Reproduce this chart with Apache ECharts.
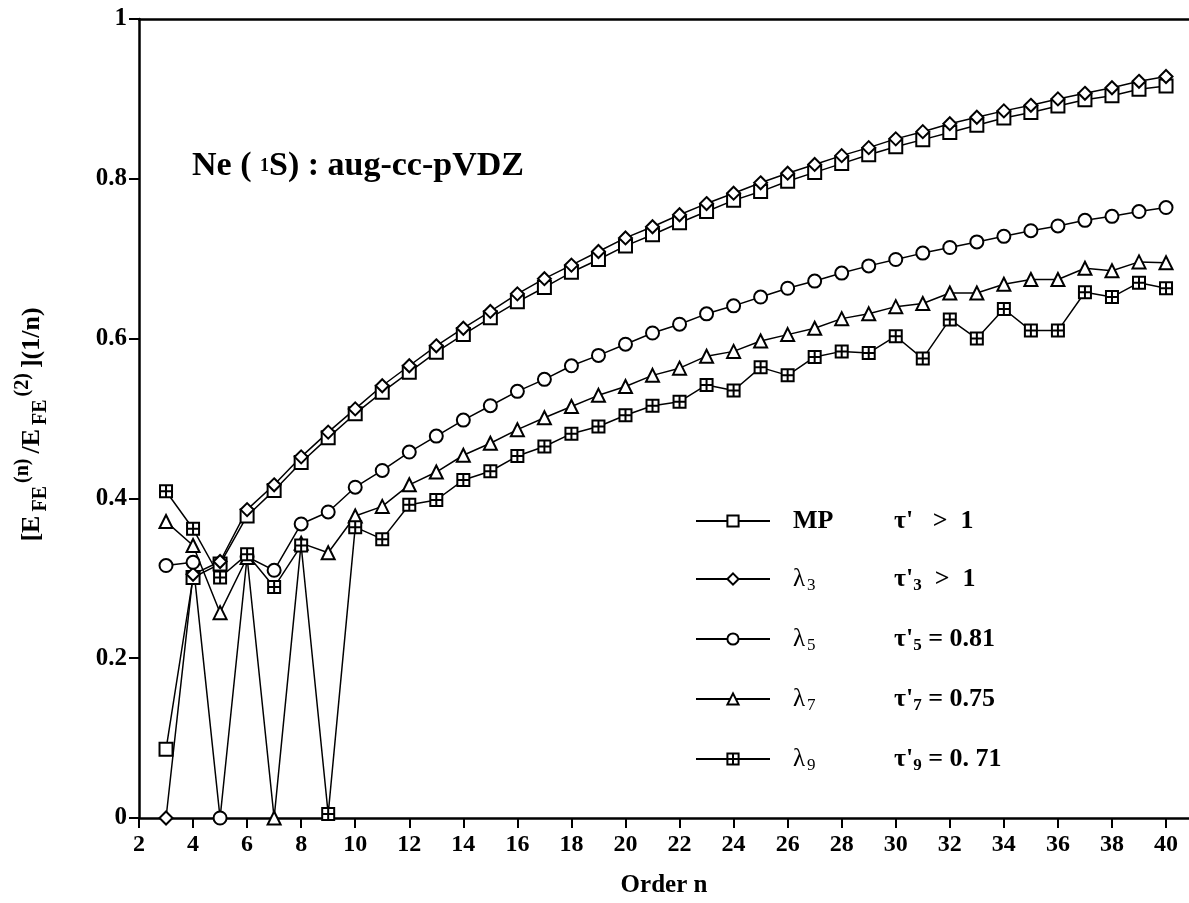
<!DOCTYPE html>
<html>
<head>
<meta charset="utf-8">
<script src="https://cdn.jsdelivr.net/npm/echarts@6/dist/echarts.min.js"></script>
<style>
  html, body { margin: 0; padding: 0; background: #fff; }
  #chartmain { width: 1189px; height: 903px; }
</style>
</head>
<body>
<div id="chartmain"></div>
<script>
var orders = [3, 4, 5, 6, 7, 8, 9, 10, 11, 12, 13, 14, 15, 16, 17, 18, 19, 20, 21,
  22, 23, 24, 25, 26, 27, 28, 29, 30, 31, 32, 33, 34, 35, 36, 37, 38, 39, 40];

// MP
var mp = [0.086, 0.301, 0.318, 0.378, 0.410, 0.445, 0.476, 0.506, 0.533, 0.558,
  0.583, 0.605, 0.626, 0.646, 0.664, 0.683, 0.699, 0.716, 0.730, 0.745,
  0.759, 0.773, 0.784, 0.797, 0.808, 0.819, 0.830, 0.840, 0.849, 0.858,
  0.867, 0.876, 0.883, 0.891, 0.899, 0.904, 0.912, 0.916];
// lambda 3
var lam3 = [0, 0.305, 0.321, 0.386, 0.417, 0.452, 0.483, 0.512, 0.541, 0.566,
  0.591, 0.613, 0.634, 0.656, 0.675, 0.692, 0.709, 0.726, 0.740, 0.755,
  0.769, 0.782, 0.795, 0.807, 0.818, 0.829, 0.839, 0.850, 0.859, 0.869,
  0.877, 0.885, 0.892, 0.900, 0.907, 0.914, 0.922, 0.928];
// lambda 5
var lam5 = [0.316, 0.320, 0, 0.327, 0.310, 0.368, 0.383, 0.414, 0.435, 0.458,
  0.478, 0.498, 0.516, 0.534, 0.549, 0.566, 0.579, 0.593, 0.607, 0.618,
  0.631, 0.641, 0.652, 0.663, 0.672, 0.682, 0.691, 0.699, 0.707, 0.714,
  0.721, 0.728, 0.735, 0.741, 0.748, 0.753, 0.759, 0.764];
// lambda 7
var lam7 = [0.371, 0.341, 0.257, 0.326, 0, 0.344, 0.332, 0.378, 0.390, 0.417,
  0.433, 0.454, 0.469, 0.486, 0.501, 0.515, 0.529, 0.540, 0.554, 0.563,
  0.578, 0.584, 0.597, 0.605, 0.613, 0.625, 0.631, 0.640, 0.644, 0.657,
  0.657, 0.668, 0.674, 0.674, 0.688, 0.685, 0.696, 0.695];
// lambda 9
var lam9 = [0.409, 0.362, 0.301, 0.330, 0.289, 0.341, 0.005, 0.364, 0.349, 0.392,
  0.398, 0.423, 0.434, 0.453, 0.465, 0.481, 0.490, 0.504, 0.516, 0.521,
  0.542, 0.535, 0.564, 0.554, 0.577, 0.584, 0.582, 0.603, 0.575, 0.624,
  0.600, 0.637, 0.610, 0.610, 0.658, 0.652, 0.670, 0.663];

var xTicks = [2, 4, 6, 8, 10, 12, 14, 16, 18, 20, 22, 24, 26, 28, 30, 32, 34, 36, 38, 40];
var yTicks = [0, 0.2, 0.4, 0.6, 0.8, 1];

var seriesNames = ["MP", "λ3", "λ5", "λ7", "λ9"];
var tauSubs = ["", "3", "5", "7", "9"];
var tauTails = ["   >  1", "  >  1", " = 0.81", " = 0.75", " = 0. 71"];

var serif = "Liberation Serif";
var boxCross = "path://M0,0H10V10H0Z M5,0V10 M0,5H10";
var symbols = ["rect", "diamond", "circle", "triangle", boxCross];
var symbolSizes = [13, 13, 13, 13, 12];
var values = [mp, lam3, lam5, lam7, lam9];

function pairs(vals) {
  var out = [];
  for (var i = 0; i < orders.length; i++) {
    out.push([orders[i], vals[i]]);
  }
  return out;
}

var series = [];
for (var s = 0; s < seriesNames.length; s++) {
  series.push({
    name: seriesNames[s],
    type: "line",
    data: pairs(values[s]),
    symbol: symbols[s],
    symbolSize: symbolSizes[s],
    showAllSymbol: true,
    animation: false,
    lineStyle: { color: "#000", width: 1.5 },
    itemStyle: { color: "#fff", borderColor: "#000", borderWidth: 2 },
    emphasis: { disabled: true }
  });
}

option = {
  backgroundColor: "#fff",
  animation: false,
  title: {
    text: "{a|Ne ( }{b|1}{a|S) : aug-cc-pVDZ}",
    left: 192,
    top: 146,
    padding: 0,
    textStyle: {
      rich: {
        a: { fontFamily: serif, fontSize: 34, fontWeight: "bold", color: "#000", lineHeight: 40 },
        b: { fontFamily: serif, fontSize: 18, fontWeight: "bold", color: "#000", lineHeight: 40 }
      }
    }
  },
  legend: {
    orient: "vertical",
    left: 695,
    top: 508,
    padding: 0,
    itemWidth: 74,
    itemHeight: 14,
    itemGap: 32,
    selectedMode: false,
    data: seriesNames,
    formatter: function(name) {
      var i = seriesNames.indexOf(name);
      var head = i === 0 ? "{mp|MP}" : "{lam|λ}{lsub|" + name.slice(1) + "}";
      var tsub = tauSubs[i] ? "{tsub|" + tauSubs[i] + "}" : "";
      return "{pad|}" + head + "{tau|τ'}" + tsub + "{tau|" + tauTails[i] + "}";
    },
    textStyle: {
      rich: {
        pad: { width: 18, lineHeight: 30 },
        mp: { width: 101, fontFamily: serif, fontSize: 26, fontWeight: "bold", color: "#000", lineHeight: 30 },
        lam: { width: 14, fontFamily: serif, fontSize: 25, color: "#000", lineHeight: 30 },
        lsub: { width: 87, fontFamily: serif, fontSize: 17, color: "#000", lineHeight: 17, verticalAlign: "bottom" },
        tau: { fontFamily: serif, fontSize: 26, fontWeight: "bold", color: "#000", lineHeight: 30 },
        tsub: { fontFamily: serif, fontSize: 17, fontWeight: "bold", color: "#000", lineHeight: 17, verticalAlign: "bottom" }
      }
    }
  },
  grid: { left: 139, right: 0, top: 19, bottom: 84 },
  xAxis: [
    {
      type: "value",
      min: 2,
      max: 40.85,
      name: "Order n",
      nameLocation: "middle",
      nameGap: 55,
      nameTextStyle: { fontFamily: serif, fontSize: 25, fontWeight: "bold", color: "#000" },
      axisLine: { lineStyle: { color: "#000", width: 2.5 } },
      axisTick: { customValues: xTicks, length: 10, lineStyle: { color: "#000", width: 2 } },
      axisLabel: { customValues: xTicks, margin: 15, fontFamily: serif, fontSize: 24, fontWeight: "bold", color: "#000" },
      splitLine: { show: false }
    },
    {
      type: "value",
      position: "top",
      min: 2,
      max: 40.85,
      axisLine: { lineStyle: { color: "#000", width: 2.5 } },
      axisTick: { show: false },
      axisLabel: { show: false },
      splitLine: { show: false }
    }
  ],
  yAxis: {
    type: "value",
    min: 0,
    max: 1,
    interval: 0.2,
    name: "{b|[E}{sub|FE}{sup|(n)}{b|/E}{sub|FE}{sup|(2)}{b|](1/n)}",
    nameLocation: "middle",
    nameGap: 88,
    nameTextStyle: {
      padding: [0, 12, 0, 0],
      rich: {
        b: { fontFamily: serif, fontSize: 26, fontWeight: "bold", color: "#000", lineHeight: 38, padding: [0, 3] },
        sub: { fontFamily: serif, fontSize: 20, fontWeight: "bold", color: "#000", lineHeight: 20, verticalAlign: "bottom", padding: [0, 1] },
        sup: { fontFamily: serif, fontSize: 20, fontWeight: "bold", color: "#000", lineHeight: 20, verticalAlign: "top", padding: [0, 2] }
      }
    },
    axisLine: { show: true, lineStyle: { color: "#000", width: 2.5 } },
    axisTick: { show: true, customValues: yTicks, length: 10, lineStyle: { color: "#000", width: 2 } },
    axisLabel: { customValues: yTicks, margin: 12, fontFamily: serif, fontSize: 25, fontWeight: "bold", color: "#000" },
    splitLine: { show: false }
  },
  series: series
};

var myChart = echarts.init(document.getElementById("chartmain"));
myChart.setOption(option);
</script>
</body>
</html>
